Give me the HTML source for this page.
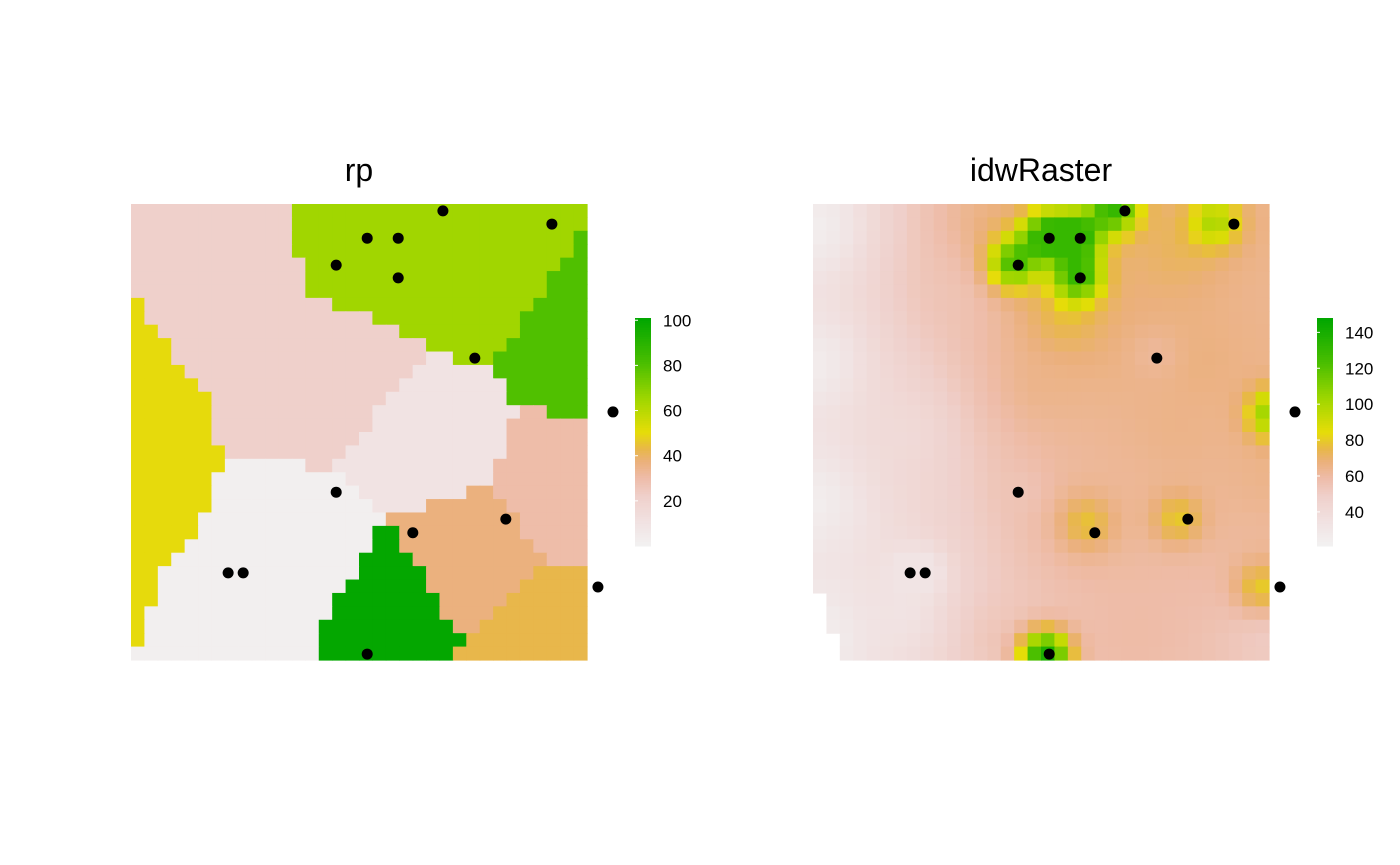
<!DOCTYPE html>
<html><head><meta charset="utf-8">
<style>
html,body{margin:0;padding:0;background:#fff;}
svg{display:block;font-family:"Liberation Sans",sans-serif;}
</style></head>
<body>
<svg id="chart" width="1400" height="865" viewBox="0 0 1400 865">
<text x="359" y="181" font-size="32" text-anchor="middle">rp</text>
<text x="1041" y="181" font-size="32" text-anchor="middle">idwRaster</text>
<g id="left"></g>
<g id="right"></g>
</svg>
<script>
// Observation points (map units 0..100)
const ptX = [68.4,92.3,51.8,58.6,45,58.6,75.4,105.7,45,82.2,61.8,21.3,24.6,102.4,51.8];
const ptY = [1.5,4.4,7.5,7.5,13.4,16.2,33.8,45.6,63.2,69.1,72.1,80.9,80.9,84,98.7];
// Voronoi seeds for rp
const seedX = [0,20,45,-8,-10,-15,40,22,54,66,74,92,94,100,55,75];
const seedY = [-5,18,36,38,65,85,80,98,88,52,76,95,62,32,12,15];
const seedV = [22,22,22,50,50,50,2,2,100,10,37,43,30,80,65,65];
// IDW: peak values at (slightly offset) cell centres and background anchors for idwRaster
const peakX = [66,88,51,58,44,58,75,101,45,80,60,21,24,98,51];
const peakY = [1,4,7,7,13,16,33,46,63,69,70,81,81,84,99];
const peakV = [130,100,130,130,122,130,62,110,55,80,78,33,33,80,140];
const bgX = [0,0,0,0,20,50,80,100,100,70,40,20,80,40,100,60,55,100,30,85];
const bgY = [5,35,65,95,50,40,50,20,95,95,95,90,10,5,60,70,25,75,20,35];
const bgV = [22,23,22,21,40,66,66,64,50,60,55,32,74,70,66,66,80,62,55,68];
const ticksL = [20,40,60,80,100];
const ticksR = [40,60,80,100,120,140];

const rampV = [0,0.1,0.22,0.3,0.37,0.43,0.5,0.65,0.8,1];
const rampC = ["#f2f2f2","#f1e3e3","#efd0cb","#eebca8","#ebb07c","#e8b847","#e6dd08","#9ed600","#4cbf00","#00a600"];
function hex(c){return [1,3,5].map(i=>parseInt(c.substr(i,2),16));}
function color(t){
  t=Math.max(0,Math.min(1,t));
  for(let i=0;i<rampV.length-1;i++){
    if(t<=rampV[i+1]){const f=(t-rampV[i])/(rampV[i+1]-rampV[i]);const a=hex(rampC[i]),b=hex(rampC[i+1]);
      return "rgb("+a.map((v,k)=>Math.round(v+(b[k]-v)*f)).join(",")+")";}
  }
  return rampC[rampC.length-1];
}
const NS="http://www.w3.org/2000/svg";
function mk(tag,attrs,parent){const e=document.createElementNS(NS,tag);for(const k in attrs)e.setAttribute(k,attrs[k]);parent.appendChild(e);return e;}
const N=34, SIZE=456, cell=SIZE/N;

function drawPanel(g,x0,valueAt,vmin,vmax,ticks,legX,isNA){
  const sx=u=>x0+u*SIZE/100, sy=u=>204+u*SIZE/100;
  for(let r=0;r<N;r++)for(let c=0;c<N;c++){
    if(isNA && isNA(r,c)) continue;
    const u=(c+0.5)*100/N, v=(r+0.5)*100/N;
    const val=valueAt(u,v);
    const rc=mk("rect",{x:(x0+c*cell).toFixed(2),y:(204+r*cell).toFixed(2),width:(cell+0.6).toFixed(2),height:(cell+0.6).toFixed(2),fill:color((val-vmin)/(vmax-vmin))},g);
    
    
  }
  for(let i=0;i<ptX.length;i++){
    const p=mk("circle",{cx:sx(ptX[i]),cy:sy(ptY[i]),r:5.5,fill:"#000"},g);
    
    
  }
  const top=318,bot=546,ly=v=>bot-(v-vmin)/(vmax-vmin)*(bot-top);
  for(let i=0;i<100;i++){
    const y=bot-(i+1)*(bot-top)/100;
    const s=mk("rect",{x:legX,y:y.toFixed(2),width:16,height:((bot-top)/100+0.5).toFixed(2),fill:color((i+0.5)/100)},g);
    
    
  }
  ticks.forEach(t=>{
    const y=ly(t);
    const l1=mk("line",{x1:legX,x2:legX+3,y1:y,y2:y,stroke:"#fff","stroke-width":1},g);
    
    
    const tx=mk("text",{x:legX+28,y:y+6,"font-size":17},g);
    tx.textContent=t;
    
    
  });
}
function voronoi(u,v){let b=0,bd=1e9;for(let i=0;i<seedX.length;i++){const d=(u-seedX[i])**2+(v-seedY[i])**2;if(d<bd){bd=d;b=i;}}return seedV[b];}
function bg(u,v){let s=0,w=0;for(let i=0;i<bgX.length;i++){const d2=(u-bgX[i])**2+(v-bgY[i])**2+25;const wi=1/d2;s+=wi*bgV[i];w+=wi;}return s/w;}
function idw(u,v){
  const b=bg(u,v);let s=0,w=0;
  for(let i=0;i<peakX.length;i++){
    const d2=(u-peakX[i])**2+(v-peakY[i])**2;
    const wi=Math.exp(-d2/(2*3.8*3.8));
    s+=wi*peakV[i];w+=wi;
  }
  const a=Math.min(1,w);
  return w>0? b*(1-a)+a*(s/w) : b;
}
drawPanel(document.getElementById("left"),131,voronoi,0,101,ticksL,635,null);
drawPanel(document.getElementById("right"),813,idw,21,148,ticksR,1317,(r,c)=>(c===0&&r>=29)||(c===1&&r>=32));
</script>
</body></html>
